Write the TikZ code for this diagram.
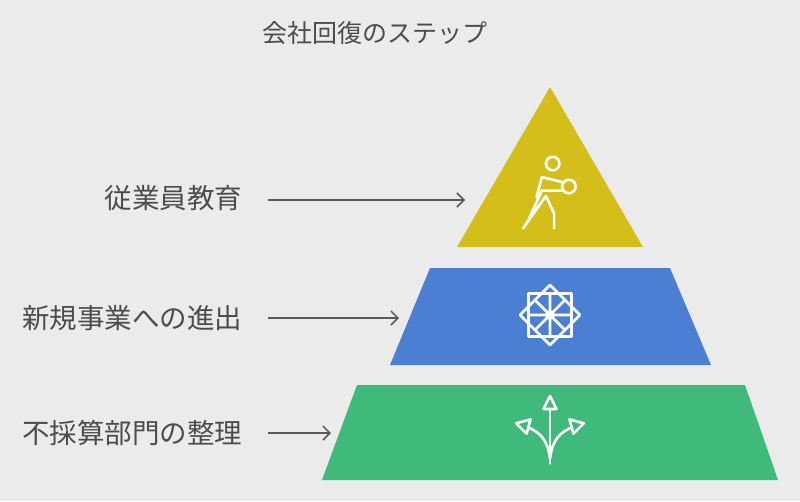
\documentclass[tikz,border=0pt]{standalone}
\usepackage{fontspec}
\setmainfont{Noto Sans CJK JP}
\usetikzlibrary{arrows.meta}
\begin{document}
\begin{tikzpicture}[x=1pt,y=-1pt,
  lbl/.style={anchor=east,font=\fontsize{27.5}{30}\selectfont,text=black!70},
  ico/.style={draw=white,line width=2.6pt,line join=round,line cap=round}]
\fill[black!8] (0,0) rectangle (800,501);
\useasboundingbox (0,0) rectangle (800,501);
\node[font=\fontsize{25}{28}\selectfont,text=black!70] (title) at (375,33) {会社回復のステップ};
\fill[fill={rgb,255:red,212;green,191;blue,26}] (550,87) -- (643,247) -- (457,247) -- cycle;
\fill[fill={rgb,255:red,74;green,127;blue,212}] (430,268) -- (670,268) -- (711,365) -- (390,365) -- cycle;
\fill[fill={rgb,255:red,63;green,186;blue,122}] (357,385) -- (745,385) -- (778,480) -- (322,480) -- cycle;
\node[lbl] (l1) at (246,198) {従業員教育};
\node[lbl] (l2) at (246,318) {新規事業への進出};
\node[lbl] (l3) at (246,433) {不採算部門の整理};
\coordinate (t1) at (465,200);
\coordinate (t2) at (399,318);
\coordinate (t3) at (331,433);
\draw[-{Straight Barb[length=7pt]},black!65,line width=1.5pt] (268,200) -- (t1);
\draw[-{Straight Barb[length=7pt]},black!65,line width=1.5pt] (268,318) -- (t2);
\draw[-{Straight Barb[length=7pt]},black!65,line width=1.5pt] (268,433) -- (t3);
% person icon
\begin{scope}[shift={(550,200)},scale=1.35]
\draw[ico] (2,-27) circle (5);
\draw[ico] (-6,-17) -- (10,-13) (10,-7) -- (-6,-7) -- (-16,15) (-3,-3) -- (3,10) -- (3,21) (-3,-3) -- (-20,21);
\draw[ico] (-6,-17) -- (-10,-2);
\draw[ico] (14,-10) circle (5);
\end{scope}
% star icon
\begin{scope}[shift={(550,315)},scale=1.25]
\draw[ico] (-17,-17) rectangle (17,17);
\draw[ico] (0,-24) -- (24,0) -- (0,24) -- (-24,0) -- cycle;
\draw[ico] (0,-17) -- (0,17) (-17,0) -- (17,0) (-11,-11) -- (11,11) (11,-11) -- (-11,11);
\fill[white] (0,0) circle (4);
\end{scope}
% split arrows
\begin{scope}[shift={(550,435)},scale=1.3]
\draw[ico] (0,22) -- (0,-20);
\draw[ico] (-5,-20) -- (5,-20) -- (0,-30) -- cycle;
\draw[ico] (0,18) .. controls (-2,3) and (-8,-2) .. (-17,-6);
\draw[ico] (0,18) .. controls (2,3) and (8,-2) .. (17,-6);
\draw[ico] (-26,-9) -- (-15,-12) -- (-18,-1) -- cycle;
\draw[ico] (26,-9) -- (15,-12) -- (18,-1) -- cycle;
\end{scope}
\end{tikzpicture}
\end{document}
